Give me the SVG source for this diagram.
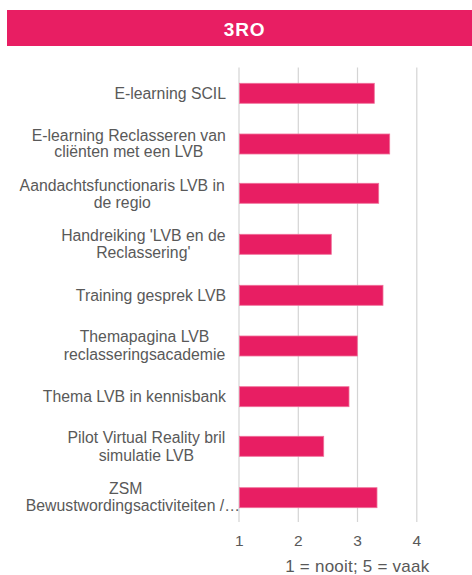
<svg xmlns="http://www.w3.org/2000/svg" width="472" height="575" viewBox="0 0 472 575">
<style>
.lbl{font-family:"Liberation Sans",Arial,sans-serif;font-size:15.8px;fill:#595959}
.tick{font-family:"Liberation Sans",Arial,sans-serif;font-size:15.5px;fill:#595959;text-anchor:middle}
.atitle{font-family:"Liberation Sans",Arial,sans-serif;font-size:17px;fill:#595959;text-anchor:middle}
.bar{fill:#E81E63;stroke:#F0709A;stroke-width:0.8}
.grid{stroke:#D4D4D4;stroke-width:1.2}
.m{text-anchor:middle}
.e{text-anchor:end}
</style>
<rect width="472" height="575" fill="#FFFFFF"/>
<g id="header">
<rect x="7" y="10" width="470" height="36" fill="#E81E63"/>
<text x="244.5" y="35.5" font-family="Liberation Sans,Arial,sans-serif" font-size="19" font-weight="bold" fill="#FFFFFF" text-anchor="middle" letter-spacing="0.8">3RO</text>
</g>
<g id="gridlines">
<line class="grid" x1="239" y1="67.5" x2="239" y2="522"/>
<line class="grid" x1="298.3" y1="67.5" x2="298.3" y2="522"/>
<line class="grid" x1="357.5" y1="67.5" x2="357.5" y2="522"/>
<line class="grid" x1="416.8" y1="67.5" x2="416.8" y2="522"/>
</g>
<g id="cat1">
<text class="lbl e" x="226" y="99">E-learning SCIL</text>
<rect class="bar" x="239.5" y="83.3" width="134.8" height="20"/>
</g>
<g id="cat2">
<text class="lbl m" x="128.8" y="140.6">E-learning Reclasseren van</text>
<text class="lbl m" x="128.8" y="157.4">cliënten met een LVB</text>
<rect class="bar" x="239.5" y="134" width="150.2" height="20"/>
</g>
<g id="cat3">
<text class="lbl m" x="122.2" y="190.8">Aandachtsfunctionaris LVB in</text>
<text class="lbl m" x="122.2" y="207.6">de regio</text>
<rect class="bar" x="239.5" y="183.3" width="139.2" height="20"/>
</g>
<g id="cat4">
<text class="lbl m" x="143.3" y="240.8">Handreiking 'LVB en de</text>
<text class="lbl m" x="143.3" y="258">Reclassering'</text>
<rect class="bar" x="239.5" y="234.3" width="91.8" height="20"/>
</g>
<g id="cat5">
<text class="lbl e" x="226" y="301">Training gesprek LVB</text>
<rect class="bar" x="239.5" y="285.3" width="143.5" height="20"/>
</g>
<g id="cat6">
<text class="lbl m" x="144.5" y="342.4">Themapagina LVB</text>
<text class="lbl m" x="144.5" y="360">reclasseringsacademie</text>
<rect class="bar" x="239.5" y="336" width="117.8" height="20"/>
</g>
<g id="cat7">
<text class="lbl e" x="226" y="402">Thema LVB in kennisbank</text>
<rect class="bar" x="239.5" y="386.7" width="109.5" height="20"/>
</g>
<g id="cat8">
<text class="lbl m" x="146.4" y="443.4">Pilot Virtual Reality bril</text>
<text class="lbl m" x="146.4" y="460.8">simulatie LVB</text>
<rect class="bar" x="239.5" y="436.3" width="84.2" height="20"/>
</g>
<g id="cat9">
<text class="lbl m" x="125.8" y="494">ZSM</text>
<text class="lbl e" x="240" y="511">Bewustwordingsactiviteiten /…</text>
<rect class="bar" x="239.5" y="487.7" width="137.5" height="20"/>
</g>
<g id="axis">
<text class="tick" x="239.3" y="546">1</text>
<text class="tick" x="298.3" y="546">2</text>
<text class="tick" x="357.6" y="546">3</text>
<text class="tick" x="416.8" y="546">4</text>
<text class="tick" x="476" y="546">5</text>
<text class="atitle" x="357.2" y="571.5" textLength="144" lengthAdjust="spacing">1 = nooit; 5 = vaak</text>
</g>
</svg>
